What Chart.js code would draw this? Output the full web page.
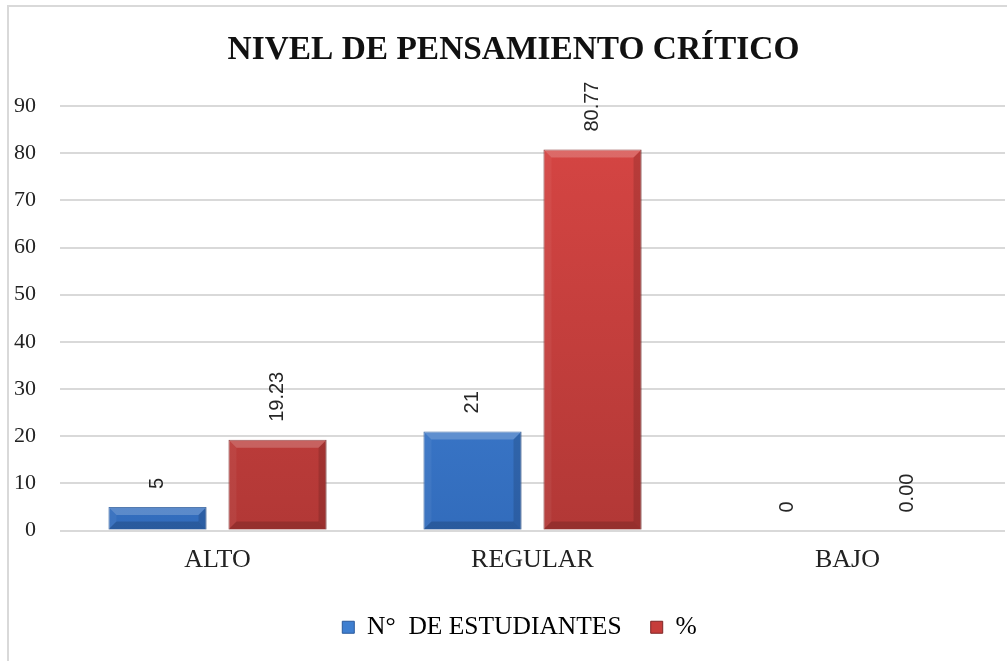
<!DOCTYPE html>
<html><head><meta charset="utf-8">
<script src="https://cdn.jsdelivr.net/npm/chart.js@4.4.0/dist/chart.umd.min.js"></script>
<style>html,body{margin:0;padding:0;background:#fff;}#wrap{width:1007px;height:661px;position:relative;}</style>
</head><body><div id="wrap"><canvas id="c" width="1007" height="661"></canvas></div>
<script>
const categories = ["ALTO", "REGULAR", "BAJO"];
const seriesNames = ["N°  DE ESTUDIANTES   ", "%"];
const estudiantes = [5, 21, 0];
const porcentaje = [19.23, 80.77, 0.00];
const labelsEst = ["5", "21", "0"];
const labelsPct = ["19.23", "80.77", "0.00"];
const yTicks = [0, 10, 20, 30, 40, 50, 60, 70, 80, 90];

const SERIF = '"Liberation Serif", "Times New Roman", serif';

function grad(ctx, chartArea, top, bot) {
  if (!chartArea) return top;
  const g = ctx.createLinearGradient(0, chartArea.top, 0, chartArea.bottom);
  g.addColorStop(0, top); g.addColorStop(1, bot);
  return g;
}

const borderPlugin = {
  id: 'frame',
  afterLayout(chart) {
    if (chart.legend) { chart.legend.left += 10; chart.legend.right += 10; }
    if (chart.titleBlock) { chart.titleBlock.left += 4; chart.titleBlock.right += 4; }
  },
  beforeDraw(chart) {
    const c = chart.ctx;
    c.save();
    c.fillStyle = '#fff';
    c.fillRect(0, 0, chart.width, chart.height);
    c.strokeStyle = '#d9d9d9';
    c.lineWidth = 2;
    c.strokeRect(8, 6, 1020, 680);
    c.restore();
  }
};

const bevelPlugin = {
  id: 'bevel',
  afterDatasetsDraw(chart) {
    const c = chart.ctx;
    c.save();
    chart.data.datasets.forEach((ds, i) => {
      chart.getDatasetMeta(i).data.forEach((el) => {
        const p = el.getProps(['x', 'y', 'base', 'width'], true);
        const L = p.x - p.width / 2, R = p.x + p.width / 2, T = Math.min(p.y, p.base), B = Math.max(p.y, p.base);
        if (B - T < 1) return;
        const b = Math.min(8, (B - T) / 2);
        const poly = (pts, col) => {
          c.beginPath(); c.moveTo(pts[0][0], pts[0][1]);
          for (let k = 1; k < pts.length; k++) c.lineTo(pts[k][0], pts[k][1]);
          c.closePath(); c.fillStyle = col; c.fill();
        };
        poly([[L, T], [R, T], [R - b, T + b], [L + b, T + b]], 'rgba(255,255,255,0.2)');
        poly([[L, T], [L + b, T + b], [L + b, B - b], [L, B]], 'rgba(255,255,255,0.05)');
        poly([[R, T], [R, B], [R - b, B - b], [R - b, T + b]], 'rgba(0,0,0,0.13)');
        poly([[L, B], [R, B], [R - b, B - b], [L + b, B - b]], 'rgba(0,0,0,0.16)');
      });
    });
    c.restore();
  }
};

const labelPlugin = {
  id: 'vlabels',
  afterDatasetsDraw(chart) {
    const c = chart.ctx;
    const texts = [labelsEst, labelsPct];
    c.save();
    c.fillStyle = '#262626';
    c.font = '20px "Liberation Sans", Arial, sans-serif';
    c.textAlign = 'left';
    c.textBaseline = 'middle';
    chart.data.datasets.forEach((ds, i) => {
      const meta = chart.getDatasetMeta(i);
      meta.data.forEach((el, j) => {
        c.save();
        c.translate(el.x, el.y - 18);
        c.rotate(-Math.PI / 2);
        c.fillText(texts[i][j], 0, 0);
        c.restore();
      });
    });
    c.restore();
  }
};

new Chart(document.getElementById('c'), {
  type: 'bar',
  data: {
    labels: categories,
    datasets: [
      {
        label: seriesNames[0],
        data: estudiantes,
        backgroundColor: (ctx) => grad(ctx.chart.ctx, ctx.chart.chartArea, '#4a8ce0', '#326cbc'),
        borderColor: '#2a5a9c',
        borderWidth: 1,
        categoryPercentage: 0.762,
        barPercentage: 0.817
      },
      {
        label: seriesNames[1],
        data: porcentaje,
        backgroundColor: (ctx) => grad(ctx.chart.ctx, ctx.chart.chartArea, '#d84644', '#b23836'),
        borderColor: '#7e2626',
        borderWidth: 1,
        categoryPercentage: 0.762,
        barPercentage: 0.817
      }
    ]
  },
  options: {
    responsive: false,
    animation: false,
    layout: { padding: { left: 14, right: 2, top: 20, bottom: 11 } },
    scales: {
      x: {
        grid: { display: false, drawTicks: false },
        border: { display: false },
        ticks: { color: '#222', font: { family: SERIF, size: 26 }, padding: 14 },
        afterFit: (axis) => { axis.height = 74; }
      },
      y: {
        min: 0, max: 90,
        afterBuildTicks: (axis) => { axis.ticks = yTicks.map(v => ({ value: v })); },
        afterFit: (axis) => { axis.width = 46; },
        grid: { color: '#d9d9d9', lineWidth: 2, drawTicks: false },
        border: { display: false },
        ticks: { color: '#222', font: { family: SERIF, size: 22 }, padding: 24 }
      }
    },
    plugins: {
      title: {
        display: true,
        text: 'NIVEL DE PENSAMIENTO CRÍTICO',
        color: '#111',
        font: { family: SERIF, size: 33.4, weight: 'bold' },
        padding: { top: 10, bottom: 36 }
      },
      legend: {
        position: 'bottom',
        labels: {
          color: '#222',
          font: { family: SERIF, size: 25.5 },
          boxWidth: 12, boxHeight: 12, padding: 10,
          generateLabels: (chart) => chart.data.datasets.map((ds, i) => ({
            text: ds.label,
            fillStyle: i === 0 ? '#3f7fd0' : '#c63d3b',
            strokeStyle: i === 0 ? '#2a5a9c' : '#7e2626',
            lineWidth: 1,
            datasetIndex: i
          }))
        }
      },
      tooltip: { enabled: false }
    }
  },
  plugins: [borderPlugin, bevelPlugin, labelPlugin]
});
</script></body></html>
